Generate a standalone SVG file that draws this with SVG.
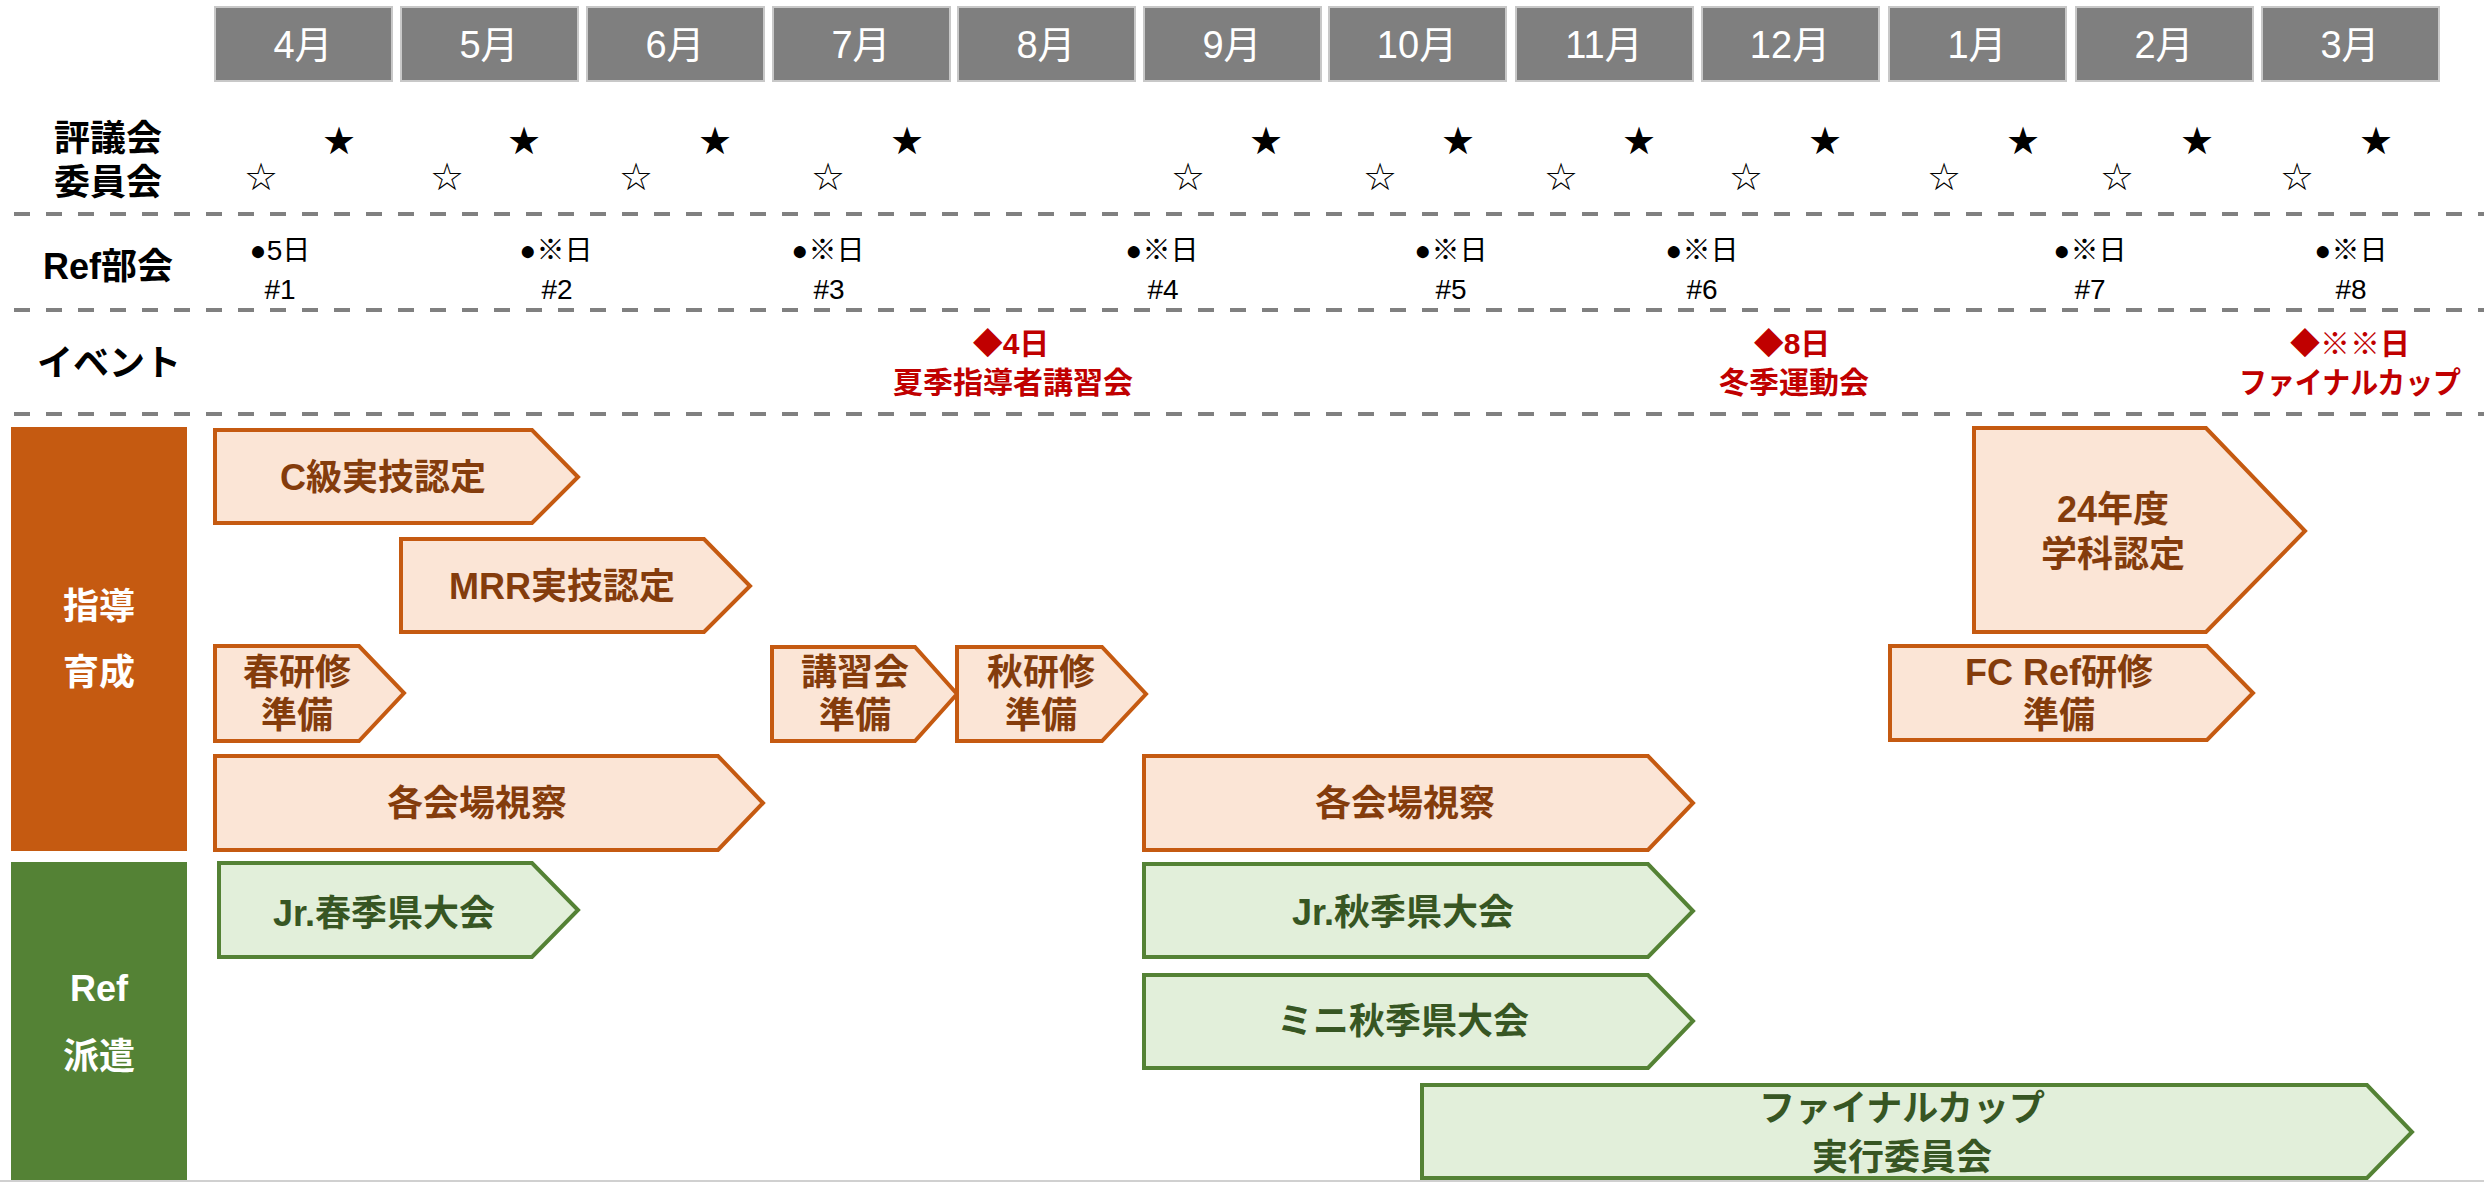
<svg xmlns="http://www.w3.org/2000/svg" width="2484" height="1182" viewBox="0 0 2484 1182">
<style>
text{font-family:"Liberation Sans","Noto Sans CJK JP",sans-serif;dominant-baseline:central;text-anchor:middle}
.mon rect{fill:#7f7f7f;stroke:#c8c8c8;stroke-width:2}
.mon text{fill:#fff;font-size:38px}
.lbl{font-size:36px;font-weight:bold;fill:#000}
.star{font-family:"DejaVu Sans",sans-serif;font-size:38px;fill:#000}
.ref{font-size:28px;fill:#000}
.ev{font-size:30px;font-weight:bold;fill:#c00000}
.dash{stroke:#808080;stroke-width:4;stroke-dasharray:16 16}
.or polygon{fill:#fbe5d6;stroke:#c55a11;stroke-width:4}
.or text{fill:#843c0c;font-size:36px;font-weight:bold}
.gr polygon{fill:#e2efda;stroke:#548235;stroke-width:4}
.gr text{fill:#375623;font-size:36px;font-weight:bold}
.bar text{fill:#fff;font-size:36px;font-weight:bold}
</style>
<rect width="2484" height="1182" fill="#fff"/>
<g id="months" class="mon">
<g id="m4"><rect x="215" y="7" width="177" height="74"/><text x="303" y="45">4月</text></g>
<g id="m5"><rect x="401" y="7" width="177" height="74"/><text x="489" y="45">5月</text></g>
<g id="m6"><rect x="587" y="7" width="177" height="74"/><text x="675" y="45">6月</text></g>
<g id="m7"><rect x="773" y="7" width="177" height="74"/><text x="861" y="45">7月</text></g>
<g id="m8"><rect x="958" y="7" width="177" height="74"/><text x="1046" y="45">8月</text></g>
<g id="m9"><rect x="1144" y="7" width="177" height="74"/><text x="1232" y="45">9月</text></g>
<g id="m10"><rect x="1329" y="7" width="177" height="74"/><text x="1417" y="45">10月</text></g>
<g id="m11"><rect x="1516" y="7" width="177" height="74"/><text x="1604" y="45">11月</text></g>
<g id="m12"><rect x="1702" y="7" width="177" height="74"/><text x="1790" y="45">12月</text></g>
<g id="m1"><rect x="1889" y="7" width="177" height="74"/><text x="1977" y="45">1月</text></g>
<g id="m2"><rect x="2076" y="7" width="177" height="74"/><text x="2164" y="45">2月</text></g>
<g id="m3"><rect x="2262" y="7" width="177" height="74"/><text x="2350" y="45">3月</text></g>
</g>
<g id="row-labels">
<text class="lbl" x="108" y="138">評議会</text>
<text class="lbl" x="108" y="182">委員会</text>
<text class="lbl" x="108" y="266">Ref部会</text>
<text class="lbl" x="109" y="363">イベント</text>
</g>
<g id="stars">
<text class="star" x="339" y="141">★</text>
<text class="star" x="524" y="141">★</text>
<text class="star" x="715" y="141">★</text>
<text class="star" x="907" y="141">★</text>
<text class="star" x="1266" y="141">★</text>
<text class="star" x="1458" y="141">★</text>
<text class="star" x="1639" y="141">★</text>
<text class="star" x="1825" y="141">★</text>
<text class="star" x="2023" y="141">★</text>
<text class="star" x="2197" y="141">★</text>
<text class="star" x="2376" y="141">★</text>
<text class="star" x="261" y="177">☆</text>
<text class="star" x="447" y="177">☆</text>
<text class="star" x="636" y="177">☆</text>
<text class="star" x="828" y="177">☆</text>
<text class="star" x="1188" y="177">☆</text>
<text class="star" x="1380" y="177">☆</text>
<text class="star" x="1561" y="177">☆</text>
<text class="star" x="1746" y="177">☆</text>
<text class="star" x="1944" y="177">☆</text>
<text class="star" x="2117" y="177">☆</text>
<text class="star" x="2297" y="177">☆</text>
</g>
<g id="dividers">
<line class="dash" x1="14" y1="214" x2="2484" y2="214"/>
<line class="dash" x1="14" y1="310" x2="2484" y2="310"/>
<line class="dash" x1="14" y1="414" x2="2484" y2="414"/>
</g>
<g id="ref-meetings">
<text class="ref" x="280" y="250">●5日</text><text class="ref" x="280" y="289">#1</text>
<text class="ref" x="556" y="250">●※日</text><text class="ref" x="557" y="289">#2</text>
<text class="ref" x="828" y="250">●※日</text><text class="ref" x="829" y="289">#3</text>
<text class="ref" x="1162" y="250">●※日</text><text class="ref" x="1163" y="289">#4</text>
<text class="ref" x="1451" y="250">●※日</text><text class="ref" x="1451" y="289">#5</text>
<text class="ref" x="1702" y="250">●※日</text><text class="ref" x="1702" y="289">#6</text>
<text class="ref" x="2090" y="250">●※日</text><text class="ref" x="2090" y="289">#7</text>
<text class="ref" x="2351" y="250">●※日</text><text class="ref" x="2351" y="289">#8</text>
</g>
<g id="events">
<text class="ev" x="1011" y="343">◆4日</text><text class="ev" x="1013" y="382">夏季指導者講習会</text>
<text class="ev" x="1792" y="343">◆8日</text><text class="ev" x="1794" y="382">冬季運動会</text>
<text class="ev" x="2350" y="343">◆※※日</text><text class="ev" x="2350" y="382" textLength="222" lengthAdjust="spacingAndGlyphs">ファイナルカップ</text>
</g>
<g id="bar-shidou" class="bar">
<rect x="11" y="427" width="176" height="424" fill="#c55a11"/>
<text x="99" y="606">指導</text>
<text x="99" y="672">育成</text>
</g>
<g id="bar-haken" class="bar">
<rect x="11" y="862" width="176" height="318" fill="#548235"/>
<text x="99" y="988">Ref</text>
<text x="99" y="1056">派遣</text>
</g>
<g id="c-kyuu" class="or">
<polygon points="215,430 532,430 578,477 532,523 215,523"/>
<text x="383" y="477">C級実技認定</text>
</g>
<g id="mrr" class="or">
<polygon points="401,539 704,539 750,586 704,632 401,632"/>
<text x="562" y="586">MRR実技認定</text>
</g>
<g id="haru-kenshu" class="or">
<polygon points="215,646 359,646 404,693 359,741 215,741"/>
<text x="297" y="672">春研修</text>
<text x="297" y="715">準備</text>
</g>
<g id="koushuukai" class="or">
<polygon points="772,647 915,647 957,694 915,741 772,741"/>
<text x="855" y="672">講習会</text>
<text x="855" y="715">準備</text>
</g>
<g id="aki-kenshu" class="or">
<polygon points="957,647 1102,647 1146,694 1102,741 957,741"/>
<text x="1041" y="672">秋研修</text>
<text x="1041" y="715">準備</text>
</g>
<g id="shisatsu1" class="or">
<polygon points="215,756 718,756 763,803 718,850 215,850"/>
<text x="477" y="803">各会場視察</text>
</g>
<g id="shisatsu2" class="or">
<polygon points="1144,756 1648,756 1693,803 1648,850 1144,850"/>
<text x="1405" y="803">各会場視察</text>
</g>
<g id="gakka" class="or">
<polygon points="1974,428 2206,428 2305,531 2206,632 1974,632"/>
<text x="2113" y="509">24年度</text>
<text x="2113" y="554">学科認定</text>
</g>
<g id="fc-ref" class="or">
<polygon points="1890,646 2207,646 2253,693 2207,740 1890,740"/>
<text x="2059" y="672">FC Ref研修</text>
<text x="2059" y="715">準備</text>
</g>
<g id="jr-haru" class="gr">
<polygon points="219,863 532,863 578,910 532,957 219,957"/>
<text x="384" y="913">Jr.春季県大会</text>
</g>
<g id="jr-aki" class="gr">
<polygon points="1144,864 1648,864 1693,911 1648,957 1144,957"/>
<text x="1403" y="912">Jr.秋季県大会</text>
</g>
<g id="mini-aki" class="gr">
<polygon points="1144,975 1648,975 1693,1021 1648,1068 1144,1068"/>
<text x="1403" y="1021">ミニ秋季県大会</text>
</g>
<g id="final-cup" class="gr">
<polygon points="1422,1085 2367,1085 2412,1132 2367,1178 1422,1178"/>
<text x="1902" y="1108">ファイナルカップ</text>
<text x="1902" y="1157">実行委員会</text>
</g>
<g id="connectors"></g>
<line x1="0" y1="1181" x2="2484" y2="1181" stroke="#d0d0d0" stroke-width="2"/>
</svg>
